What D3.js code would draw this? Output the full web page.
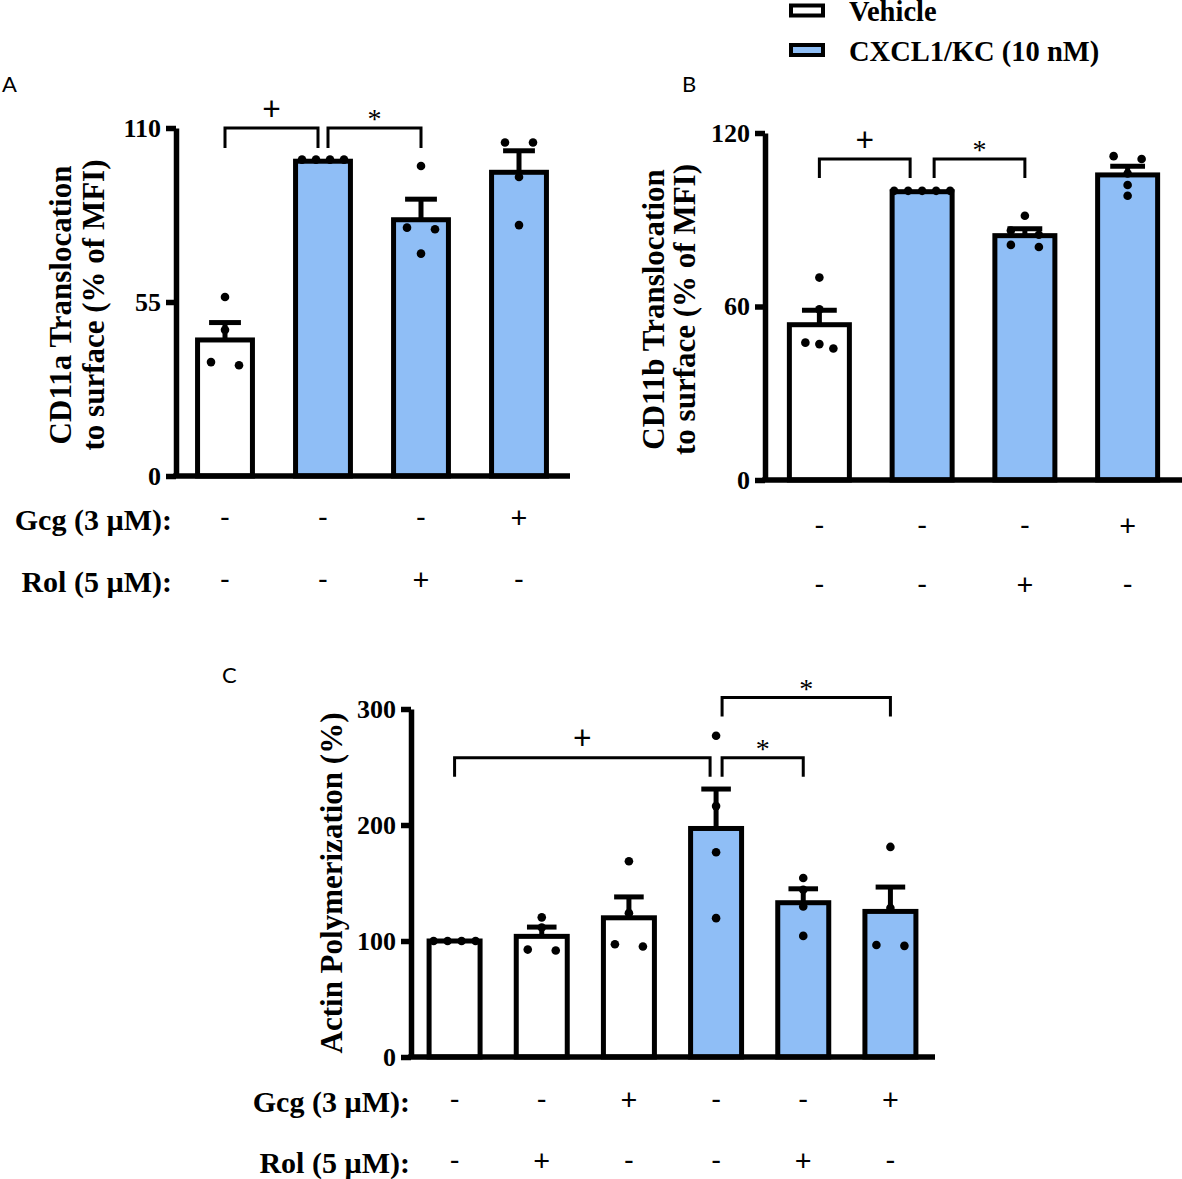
<!DOCTYPE html>
<html><head><meta charset="utf-8">
<script src="https://cdn.jsdelivr.net/npm/d3@7"></script>
<style>body{margin:0;background:#fff}</style>
</head><body>
<svg id="chart" width="1182" height="1179"></svg>
<script>
// ---------------- data ----------------
const seriesNames = ["Vehicle", "CXCL1/KC (10 nM)"];
const rowLabels = ["Gcg (3 µM):", "Rol (5 µM):"];

// Panel A
const seriesA = [0, 1, 1, 1];
const gcgA = ["-", "-", "-", "+"];
const rolA = ["-", "-", "+", "-"];
const meanA = [43, 99.5, 81, 96];
const semA = [5.5, 0, 6.5, 6.8];
const pointsA = [[56.6, 46.2, 35, 36], [100, 100, 100, 100], [98, 78.5, 78, 70.3], [105.4, 105.4, 94.5, 79.3]];
const ticksA = [0, 55, 110];
const titleA = ["CD11a Translocation", "to surface (% of MFI)"];
const bracketsA = [{from: 0, to: 1, level: 110, label: "+"}, {from: 1, to: 2, level: 110, label: "*"}];

// Panel B
const seriesB = [0, 1, 1, 1];
const gcgB = ["-", "-", "-", "+"];
const rolB = ["-", "-", "+", "-"];
const meanB = [53.7, 99.7, 84.5, 105.5];
const semB = [5, 0, 2.4, 3];
const pointsB = [[70, 59, 47.5, 45.5, 47], [100, 100, 100, 100, 100], [91.4, 80.6, 81.3, 86.3, 84.8], [111, 112, 106, 102, 98.3]];
const ticksB = [0, 60, 120];
const titleB = ["CD11b Translocation", "to surface (% of MFI)"];
const bracketsB = [{from: 0, to: 1, level: 111, label: "+"}, {from: 1, to: 2, level: 111, label: "*"}];

// Panel C
const seriesC = [0, 0, 0, 1, 1, 1];
const gcgC = ["-", "-", "+", "-", "-", "+"];
const rolC = ["-", "+", "-", "-", "+", "-"];
const meanC = [100, 104, 120, 197, 133, 125.5];
const semC = [0, 8, 18, 34, 12, 21];
const pointsC = [[100, 100, 100, 100], [120.4, 111.6, 91.8, 92.6], [168.7, 124, 95.2, 97.2], [277, 216.3, 176.5, 119.7], [154.3, 144.2, 129.8, 104.4], [181.1, 128.4, 95.8, 96.6]];
const ticksC = [0, 100, 200, 300];
const titleC = ["Actin Polymerization (%)"];
const bracketsC = [{from: 0, to: 3, level: 258, label: "+"}, {from: 3, to: 4, level: 258, label: "*"}, {from: 3, to: 5, level: 310, label: "*"}];

// ---------------- style ----------------
const BLUE = "#8FBEF6";
const SERIF = "'Liberation Serif','Times New Roman',serif";
const SANS = "Lato,'Open Sans',sans-serif";
const fills = ["#ffffff", BLUE];

const svg = d3.select("#chart");
svg.append("rect").attr("width", 1182).attr("height", 1179).attr("fill", "#fff");

function swarm(vals, y, r, spacing) {
  const items = vals.map((v, i) => ({v, py: y(v), i, dx: 0}));
  const sorted = items.slice().sort((a, b) => a.py - b.py);
  const clusters = [];
  let cur = [sorted[0]];
  for (let k = 1; k < sorted.length; k++) {
    if (sorted[k].py - cur[cur.length - 1].py < 2 * r) cur.push(sorted[k]);
    else { clusters.push(cur); cur = [sorted[k]]; }
  }
  clusters.push(cur);
  clusters.forEach(c => {
    const n = c.length, s = n === 2 ? 2 * spacing : spacing;
    c.forEach((p, j) => p.dx = (j - (n - 1) / 2) * s);
  });
  return items;
}

function panel(cfg) {
  const g = svg.append("g");
  const n = cfg.means.length;
  const idx = d3.range(n);
  const x = d3.scaleBand().domain(idx).range(cfg.bandRange)
    .paddingInner(cfg.pad).paddingOuter(cfg.pad / 2);
  const y = d3.scaleLinear().domain([0, cfg.ticks[cfg.ticks.length - 1]]).range([cfg.y0, cfg.y1]);
  const cx = i => x(i) + x.bandwidth() / 2;

  // bars
  g.selectAll("rect.bar").data(idx).join("rect")
    .attr("x", i => x(i)).attr("width", x.bandwidth())
    .attr("y", i => y(cfg.means[i])).attr("height", i => y(0) - y(cfg.means[i]))
    .attr("fill", i => fills[cfg.series[i]]).attr("stroke", "#000").attr("stroke-width", 5);

  // error bars (SEM, upward)
  const capW = x.bandwidth() * 0.58;
  idx.forEach(i => {
    if (cfg.sems[i] <= 0) return;
    const yt = y(cfg.means[i] + cfg.sems[i]);
    g.append("line").attr("x1", cx(i)).attr("x2", cx(i))
      .attr("y1", y(cfg.means[i])).attr("y2", yt).attr("stroke", "#000").attr("stroke-width", 5);
    g.append("line").attr("x1", cx(i) - capW / 2).attr("x2", cx(i) + capW / 2)
      .attr("y1", yt).attr("y2", yt).attr("stroke", "#000").attr("stroke-width", 5);
  });

  // points
  const r = 4.3;
  idx.forEach(i => {
    const pts = swarm(cfg.points[i], y, r, 14);
    g.selectAll(null).data(pts).join("circle")
      .attr("cx", p => cx(i) + p.dx).attr("cy", p => p.py).attr("r", r).attr("fill", "#000");
  });

  // y axis
  const ax = g.append("g").attr("transform", `translate(${cfg.axisX},0)`)
    .call(d3.axisLeft(y).tickValues(cfg.ticks).tickSize(10).tickPadding(5).tickSizeOuter(0));
  ax.select(".domain").attr("stroke", "#000").attr("stroke-width", 5.5);
  ax.selectAll(".tick line").attr("stroke", "#000").attr("stroke-width", 5.5);
  ax.selectAll(".tick text").attr("fill", "#000").attr("font-family", SERIF)
    .attr("font-weight", "bold").attr("font-size", 26);
  ax.attr("font-family", null).attr("font-size", null);
  // x axis line
  g.append("line").attr("x1", cfg.axisX - 2.75).attr("x2", cfg.xEnd)
    .attr("y1", y(0)).attr("y2", y(0)).attr("stroke", "#000").attr("stroke-width", 5.5);

  // axis title
  const midY = (cfg.y0 + cfg.y1) / 2 + cfg.titleShift;
  cfg.title.forEach((t, k) => {
    g.append("text").attr("transform", `translate(${cfg.titleX[k]},${midY}) rotate(-90)`)
      .attr("text-anchor", "middle").attr("font-family", SERIF).attr("font-weight", "bold")
      .attr("font-size", 31).attr("fill", "#000").text(t);
  });

  // brackets
  cfg.brackets.forEach(b => {
    const shared = i => cfg.brackets.some(o => o !== b && (o.from === i || o.to === i));
    const xa = cx(b.from) + (shared(b.from) ? cfg.gap : 0);
    const xb = cx(b.to) - (shared(b.to) ? cfg.gap : 0);
    const yt = y(b.level), yb = yt + cfg.drop;
    g.append("path").attr("d", `M${xa},${yb}V${yt}H${xb}V${yb}`)
      .attr("fill", "none").attr("stroke", "#000").attr("stroke-width", 3);
    const isPlus = b.label === "+";
    g.append("text").attr("x", (xa + xb) / 2)
      .attr("y", isPlus ? yt - 19 + 0.33 * 32 : yt - 13 + 0.47 * 28)
      .attr("text-anchor", "middle")
      .attr("font-family", isPlus ? SANS : SERIF)
      .attr("font-size", isPlus ? 32 : 28).attr("fill", "#000").text(b.label);
  });

  // treatment rows
  [cfg.gcg, cfg.rol].forEach((row, k) => {
    g.selectAll(null).data(idx).join("text")
      .attr("x", i => cx(i)).attr("y", cfg.rowY[k])
      .attr("text-anchor", "middle").attr("font-family", SANS).attr("font-size", 29)
      .attr("fill", "#000").text(i => row[i]);
    if (cfg.rowLabelX != null) {
      g.append("text").attr("x", cfg.rowLabelX).attr("y", cfg.rowY[k] + 1.5)
        .attr("text-anchor", "end").attr("font-family", SERIF).attr("font-weight", "bold")
        .attr("font-size", 30).attr("fill", "#000").text(rowLabels[k]);
    }
  });

  // panel letter
  g.append("text").attr("x", cfg.letterPos[0]).attr("y", cfg.letterPos[1])
    .attr("font-family", SANS).attr("font-size", 22).attr("fill", "#000").text(cfg.letter);
}

panel({letter: "A", letterPos: [2, 92], series: seriesA, means: meanA, sems: semA, points: pointsA,
  ticks: ticksA, title: titleA, brackets: bracketsA, gcg: gcgA, rol: rolA,
  bandRange: [176, 568], pad: 0.44, y0: 476, y1: 128, axisX: 176, xEnd: 570,
  titleX: [71, 104], titleShift: 3, gap: 5, drop: 20, rowY: [528, 590], rowLabelX: 172});

panel({letter: "B", letterPos: [682, 92], series: seriesB, means: meanB, sems: semB, points: pointsB,
  ticks: ticksB, title: titleB, brackets: bracketsB, gcg: gcgB, rol: rolB,
  bandRange: [768, 1179], pad: 0.416, y0: 480, y1: 133, axisX: 765, xEnd: 1182,
  titleX: [664, 695], titleShift: 3, gap: 12, drop: 19, rowY: [536, 595], rowLabelX: null});

panel({letter: "C", letterPos: [222, 683], series: seriesC, means: meanC, sems: semC, points: pointsC,
  ticks: ticksC, title: titleC, brackets: bracketsC, gcg: gcgC, rol: rolC,
  bandRange: [411, 934], pad: 0.415, y0: 1057, y1: 709, axisX: 411, xEnd: 935,
  titleX: [342], titleShift: 0, gap: 6, drop: 19, rowY: [1110, 1171], rowLabelX: 410});

// legend
const leg = svg.append("g");
seriesNames.forEach((s, k) => {
  const ly = [10.5, 50][k];
  leg.append("rect").attr("x", 791).attr("y", ly - 5).attr("width", 32).attr("height", 10)
    .attr("fill", fills[k]).attr("stroke", "#000").attr("stroke-width", 4);
  leg.append("text").attr("x", 849).attr("y", ly + 10.5).attr("font-family", SERIF)
    .attr("font-weight", "bold").attr("font-size", 28.5).attr("fill", "#000").text(s);
});
</script>
</body></html>
